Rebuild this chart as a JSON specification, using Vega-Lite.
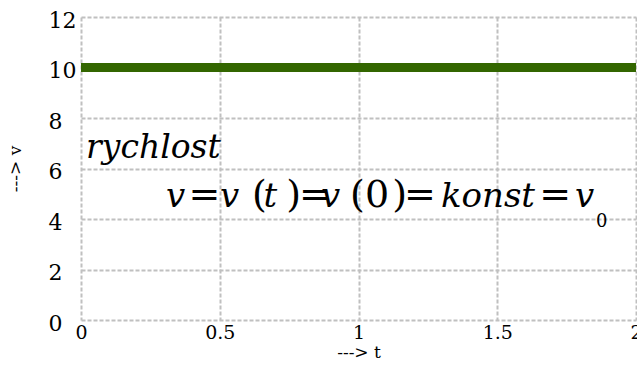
{
  "$schema": "https://vega.github.io/schema/vega-lite/v6.json",
  "width": 555,
  "height": 303,
  "autosize": {"type": "none"},
  "padding": {"left": 81, "top": 17, "right": 1, "bottom": 46},
  "background": "#ffffff",
  "config": {
    "view": {"stroke": null},
    "font": "DejaVu Serif",
    "axis": {
      "grid": true,
      "gridColor": "#c0c0c0",
      "gridWidth": 2,
      "gridDash": [4, 2],
      "domain": false,
      "ticks": false,
      "tickSize": 0,
      "labelFont": "DejaVu Serif",
      "labelColor": "#000000",
      "titleFont": "DejaVu Serif",
      "titleFontWeight": "normal",
      "titleColor": "#000000"
    }
  },
  "datasets": {
    "speed": [
      {"t": 0, "v": 10}, {"t": 0.1, "v": 10}, {"t": 0.2, "v": 10}, {"t": 0.3, "v": 10},
      {"t": 0.4, "v": 10}, {"t": 0.5, "v": 10}, {"t": 0.6, "v": 10}, {"t": 0.7, "v": 10},
      {"t": 0.8, "v": 10}, {"t": 0.9, "v": 10}, {"t": 1.0, "v": 10}, {"t": 1.1, "v": 10},
      {"t": 1.2, "v": 10}, {"t": 1.3, "v": 10}, {"t": 1.4, "v": 10}, {"t": 1.5, "v": 10},
      {"t": 1.6, "v": 10}, {"t": 1.7, "v": 10}, {"t": 1.8, "v": 10}, {"t": 1.9, "v": 10},
      {"t": 2.0, "v": 10}
    ],
    "heading": [
      {"t": 0.018, "v": 6.416, "label": "rychlost"}
    ],
    "italic": [
      {"t": 0.306, "v": 4.475, "label": "v"},
      {"t": 0.501, "v": 4.475, "label": "v"},
      {"t": 0.658, "v": 4.475, "label": "t"},
      {"t": 0.865, "v": 4.475, "label": "v"},
      {"t": 1.297, "v": 4.475, "label": "konst"},
      {"t": 1.78, "v": 4.475, "label": "v"}
    ],
    "upright": [
      {"t": 0.387, "v": 4.475, "label": "="},
      {"t": 0.616, "v": 4.475, "label": "("},
      {"t": 0.74, "v": 4.475, "label": ")"},
      {"t": 0.786, "v": 4.475, "label": "="},
      {"t": 0.969, "v": 4.475, "label": "("},
      {"t": 1.023, "v": 4.475, "label": "0"},
      {"t": 1.122, "v": 4.475, "label": ")"},
      {"t": 1.164, "v": 4.475, "label": "="},
      {"t": 1.651, "v": 4.475, "label": "="}
    ],
    "subscript": [
      {"t": 1.856, "v": 3.7, "label": "0"}
    ]
  },
  "layer": [
    {
      "data": {"name": "speed"},
      "mark": {"type": "line", "color": "#336600", "strokeWidth": 9, "strokeCap": "butt"},
      "encoding": {
        "x": {
          "field": "t",
          "type": "quantitative",
          "scale": {"domain": [0, 2], "nice": false, "zero": false},
          "axis": {
            "title": "---> t",
            "values": [0, 0.5, 1, 1.5, 2],
            "format": "~g",
            "labelFontSize": 19,
            "labelPadding": 3,
            "labelFlush": false,
            "labelOverlap": false,
            "titleFontSize": 17,
            "titlePadding": 2
          }
        },
        "y": {
          "field": "v",
          "type": "quantitative",
          "scale": {"domain": [0, 12], "nice": false},
          "axis": {
            "title": "---> v",
            "values": [0, 2, 4, 6, 8, 10, 12],
            "format": "~g",
            "labelFontSize": 22,
            "labelAlign": "left",
            "labelBaseline": "middle",
            "labelPadding": 33,
            "labelOffset": 3,
            "labelOverlap": false,
            "titleFontSize": 17,
            "titlePadding": 24
          }
        }
      }
    },
    {
      "data": {"name": "heading"},
      "mark": {"type": "text", "font": "DejaVu Serif", "fontStyle": "italic", "fontSize": 33, "align": "left", "baseline": "alphabetic", "color": "#000000"},
      "encoding": {
        "x": {"field": "t", "type": "quantitative"},
        "y": {"field": "v", "type": "quantitative"},
        "text": {"field": "label"}
      }
    },
    {
      "data": {"name": "italic"},
      "mark": {"type": "text", "font": "DejaVu Serif", "fontStyle": "italic", "fontSize": 34, "align": "left", "baseline": "alphabetic", "color": "#000000"},
      "encoding": {
        "x": {"field": "t", "type": "quantitative"},
        "y": {"field": "v", "type": "quantitative"},
        "text": {"field": "label"}
      }
    },
    {
      "data": {"name": "upright"},
      "mark": {"type": "text", "font": "DejaVu Serif", "fontSize": 38, "align": "left", "baseline": "alphabetic", "color": "#000000"},
      "encoding": {
        "x": {"field": "t", "type": "quantitative"},
        "y": {"field": "v", "type": "quantitative"},
        "text": {"field": "label"}
      }
    },
    {
      "data": {"name": "subscript"},
      "mark": {"type": "text", "font": "DejaVu Serif", "fontSize": 18, "align": "left", "baseline": "alphabetic", "color": "#000000"},
      "encoding": {
        "x": {"field": "t", "type": "quantitative"},
        "y": {"field": "v", "type": "quantitative"},
        "text": {"field": "label"}
      }
    }
  ]
}
